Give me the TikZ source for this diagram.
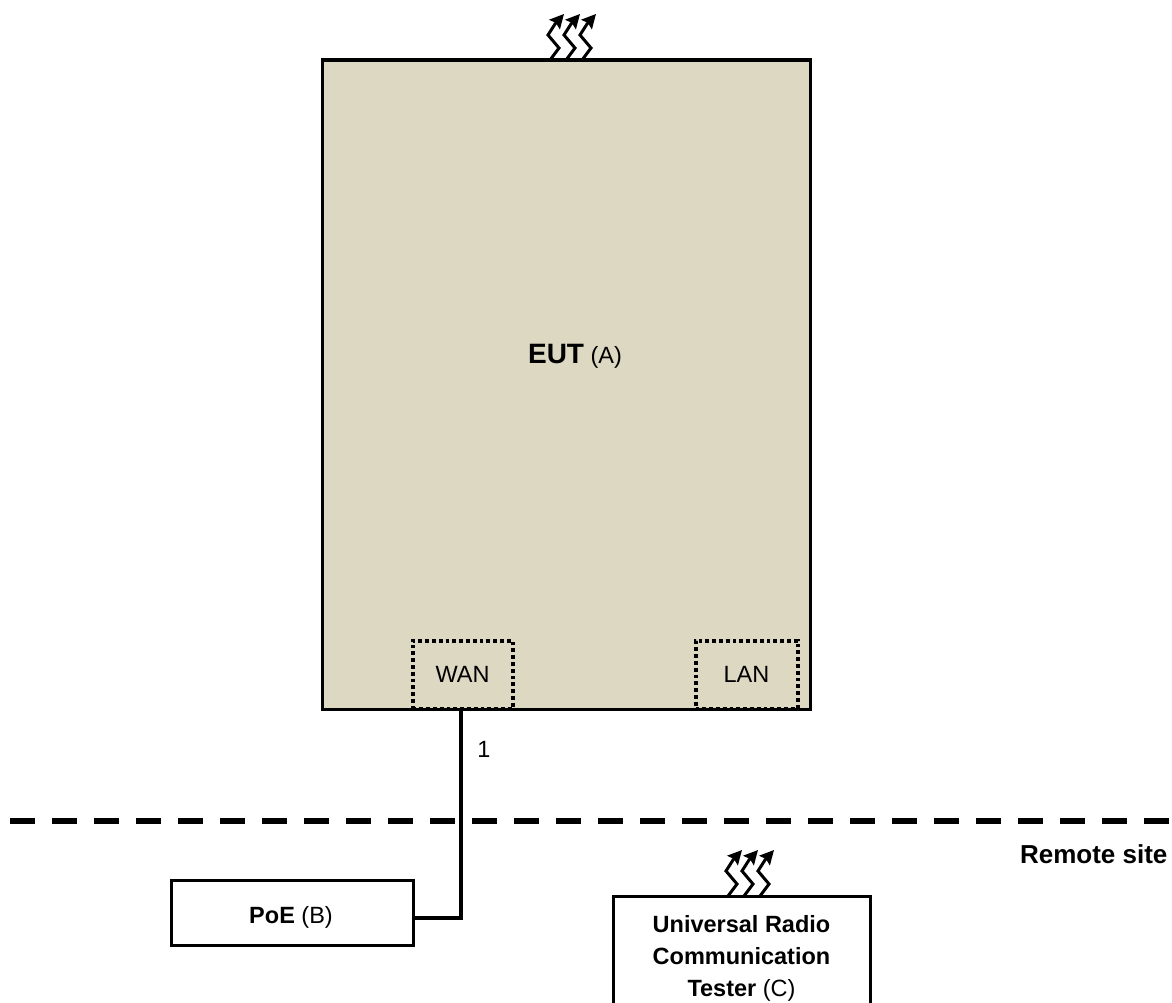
\documentclass[tikz,border=0pt]{standalone}
\usepackage{fontspec}
\setmainfont{Liberation Sans}
\usetikzlibrary{arrows.meta}
\definecolor{eutfill}{RGB}{221,216,194}
\tikzset{
  unitbox/.style={draw=black, line width=3.6pt, anchor=north west, inner sep=0pt, align=center},
  portbox/.style={draw=black, line width=4pt, dash pattern=on 3.8pt off 3pt, anchor=north west, inner sep=0pt},
  wire/.style={draw=black, line width=3.6pt},
  radiowave/.style={draw=black, line width=3pt, -{Stealth[length=14pt,width=14pt,inset=2pt]}},
  bodytext/.style={font=\fontsize{23.5}{27}\selectfont},
}
\newcommand{\wavetrio}[2]{\foreach \i in {0,16,32} {\draw[radiowave] (#1+\i,#2) -- (#1+\i+9,#2-12) -- (#1+\i-2,#2-25) -- (#1+\i+5,#2-36) -- (#1+\i+14,#2-46);}}
\begin{document}
\begin{tikzpicture}[x=1pt,y=-1pt]
\useasboundingbox (0,0) rectangle (1172,1003);
\node[unitbox, fill=eutfill, minimum width=488pt, minimum height=649pt] (eut) at (320.5,58.5) {};
\node[bodytext] (eutlabel) at (575,356) {{\fontsize{28}{30}\selectfont\bfseries EUT} (A)};
\node[portbox, minimum width=100pt, minimum height=68pt, bodytext] (wan) at (410.5,638.5) {WAN};
\node[portbox, minimum width=102pt, minimum height=68pt, bodytext] (lan) at (693.5,638.5) {LAN};
\node[unitbox, minimum width=242pt, minimum height=65pt] (poe) at (169.5,878.5) {};
\node[bodytext] (poelabel) at (291,917) {\textbf{PoE} (B)};
\node[unitbox, minimum width=257pt, minimum height=120pt] (tester) at (611.5,894.5) {};
\node[font=\fontsize{23.5}{32}\selectfont, align=center] (testerlabel) at (741.5,958) {\textbf{Universal Radio}\\\textbf{Communication}\\\textbf{Tester} (C)};
\node[bodytext] (cablenum) at (484,749) {1};
\node[font=\fontsize{26}{30}\selectfont\bfseries, anchor=east] (remote) at (1171,854) {Remote site};
\coordinate (dashstart) at (10,821);
\coordinate (dashend) at (1172,821);
\coordinate (wanport) at ([xshift=-1.5pt]wan.south);
\coordinate (poeport) at ([yshift=-5pt]poe.east);
\draw[wire] (wanport) -- (wanport |- poeport) -- (poeport);
\draw[black, line width=6pt, dash pattern=on 25pt off 17pt] (dashstart) -- (dashend);
\wavetrio{550}{60}
\wavetrio{728}{896}
\end{tikzpicture}
\end{document}
